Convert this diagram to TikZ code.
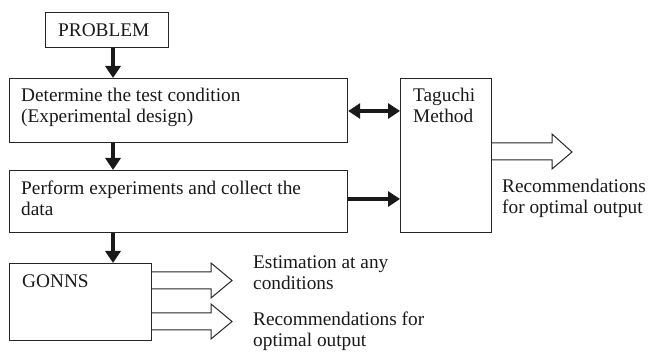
\documentclass[tikz,border=0pt]{standalone}
\usepackage{fontspec}
\setmainfont{Liberation Serif}
\usetikzlibrary{arrows.meta,calc}
\begin{document}
\begin{tikzpicture}[x=1pt,y=-1pt,
  boxnode/.style={draw=black!85,line width=1.2pt,inner sep=0pt,anchor=north west},
  txt/.style={anchor=base west,inner sep=0pt,align=left,font=\fontsize{19.3}{21}\selectfont,text=black!90},
  thk/.style={line width=4.5pt,draw=black!90,-{Triangle[length=12pt,width=15pt]}},
  thkboth/.style={line width=4.5pt,draw=black!90,{Triangle[length=12pt,width=15pt]}-{Triangle[length=12pt,width=15pt]}},
  hollow/.style={draw=black!85,line width=1pt,line join=miter}]
\useasboundingbox (0,0) rectangle (648,352);
% boxes
\node[boxnode,minimum width=123pt,minimum height=35pt] (prob) at (45,12) {};
\node[boxnode,minimum width=338pt,minimum height=64pt] (det) at (9,78) {};
\node[boxnode,minimum width=338pt,minimum height=62pt] (perf) at (9,170) {};
\node[boxnode,minimum width=142pt,minimum height=77pt] (gonns) at (9,263) {};
\node[boxnode,minimum width=91pt,minimum height=154pt] (tag) at (400,78) {};
% texts (anchor = baseline of the last line)
\node[txt] (tprob) at (58,37) {PROBLEM};
\node[txt] (tdet) at (21,123) {Determine the test condition\\(Experimental design)};
\node[txt] (tperf) at (21,216) {Perform experiments and collect the\\data};
\node[txt] (ttag) at (413,123) {Taguchi\\Method};
\node[txt] (tgon) at (22,288) {GONNS};
\node[txt] (trec1) at (502,214) {Recommendations\\for optimal output};
\node[txt] (test) at (253,290) {Estimation at any\\conditions};
\node[txt] (trec2) at (253,347) {Recommendations for\\optimal output};
% vertical arrows
\coordinate (ax) at (113,0);
\draw[thk] (prob.south -| ax) -- (det.north -| ax);
\draw[thk] (det.south -| ax) -- (perf.north -| ax);
\draw[thk] (perf.south -| ax) -- (gonns.north -| ax);
% horizontal arrows to Taguchi
\draw[thkboth] (det.east |- 0,111) -- (tag.west |- 0,111);
\draw[thk] (perf.east |- 0,199) -- (tag.west |- 0,199);
% hollow arrows
\coordinate (tip1) at (572,152);
\draw[hollow] (tag.east |- 0,143) -- (552,143) -- (552,134) -- (tip1) -- (552,169) -- (552,160) -- (tag.east |- 0,160);
\coordinate (tip2) at (232,280.5);
\draw[hollow] (gonns.east |- 0,272) -- (211,272) -- (211,263) -- (tip2) -- (211,298) -- (211,289) -- (gonns.east |- 0,289);
\coordinate (tip3) at (232,321.5);
\draw[hollow] (gonns.east |- 0,313) -- (211,313) -- (211,304) -- (tip3) -- (211,339) -- (211,330) -- (gonns.east |- 0,330);
\end{tikzpicture}
\end{document}
